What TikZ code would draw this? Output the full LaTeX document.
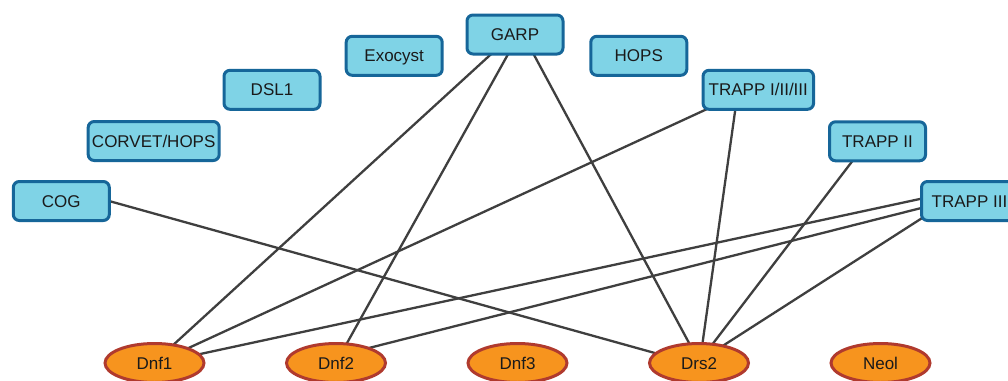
\documentclass[tikz,border=0pt]{standalone}
\usepackage{fontspec}
\setmainfont{Liberation Sans}
\usetikzlibrary{calc,shapes.geometric}
\definecolor{boxfill}{HTML}{7FD3E6}
\definecolor{boxline}{HTML}{166699}
\definecolor{ellfill}{HTML}{F7941E}
\definecolor{ellline}{HTML}{B03A2E}
\definecolor{edgecol}{HTML}{3F3F3F}
\definecolor{txtcol}{HTML}{1A1A1A}
\pgfdeclarelayer{back}
\pgfdeclarelayer{bg}
\pgfsetlayers{back,bg,main}
\tikzset{
  cbox/.style={draw=boxline, fill=boxfill, line width=3pt, rounded corners=6pt,
    minimum width=96pt, minimum height=39pt, inner sep=2pt, text=txtcol,
    text height=14pt, text depth=1.8pt,
    font=\fontsize{17}{20}\selectfont},
  gene/.style={ellipse, draw=ellline, fill=ellfill, line width=3pt,
    minimum width=99pt, minimum height=39pt, inner sep=0pt, text=txtcol,
    text height=14pt, text depth=1.8pt,
    font=\fontsize{17}{20}\selectfont},
  link/.style={draw=edgecol, line width=2.3pt}
}
\begin{document}
\begin{tikzpicture}[x=1pt,y=-1pt]
\useasboundingbox (0,0) rectangle (1008,380);
\begin{pgfonlayer}{back}
\fill[white] (0,0) rectangle (1008,380);
\end{pgfonlayer}
\clip (0,0) rectangle (1008,380);
% complexes
\node[cbox] (cog) at (61.3,201) {COG};
\node[cbox, minimum width=131pt] (corvet) at (153.7,141) {CORVET/HOPS};
\node[cbox] (dsl) at (272,89.8) {DSL1};
\node[cbox] (exo) at (394.2,55.8) {Exocyst};
\node[cbox] (garp) at (515,34.5) {GARP};
\node[cbox] (hops) at (638.8,55.8) {HOPS};
\node[cbox, minimum width=110.5pt] (trappi) at (758.3,89.8) {TRAPP I/II/III};
\node[cbox] (trappii) at (877.5,141.3) {TRAPP II};
\node[cbox] (trappiii) at (969.5,201) {TRAPP III};
% genes
\node[gene] (dnf1) at (154.5,363) {Dnf1};
\node[gene] (dnf2) at (336,363) {Dnf2};
\node[gene] (dnf3) at (517.5,363) {Dnf3};
\node[gene] (drs2) at (699,363) {Drs2};
\node[gene] (neo) at (880.5,363) {Neol};
% links
\begin{pgfonlayer}{bg}
\draw[link] ($(cog.center)+(45.6,-0.6)$) -- ($(drs2.center)+(-44.2,-10)$);
\draw[link] ($(garp.center)+(-23,18.8)$) -- ($(dnf1.center)+(16.8,-16.3)$);
\draw[link] ($(garp.center)+(-5.9,17.8)$) -- ($(dnf2.center)+(9.3,-16.9)$);
\draw[link] ($(garp.center)+(17.6,17.8)$) -- ($(drs2.center)+(-8.3,-16.9)$);
\draw[link] ($(trappi.center)+(-48.8,18.1)$) -- ($(dnf1.center)+(31,-13.6)$);
\draw[link] ($(trappi.center)+(-22.6,16.9)$) -- ($(drs2.center)+(3,-16.3)$);
\draw[link] ($(trappii.center)+(-23.8,18)$) -- ($(drs2.center)+(12.3,-17.3)$);
\draw[link] ($(trappiii.center)+(-44.6,-3.1)$) -- ($(dnf1.center)+(43.9,-8.6)$);
\draw[link] ($(trappiii.center)+(-44.7,6.1)$) -- ($(dnf2.center)+(30.9,-14.5)$);
\draw[link] ($(trappiii.center)+(-43.6,14.6)$) -- ($(drs2.center)+(23.5,-17)$);
\end{pgfonlayer}
\end{tikzpicture}
\end{document}
